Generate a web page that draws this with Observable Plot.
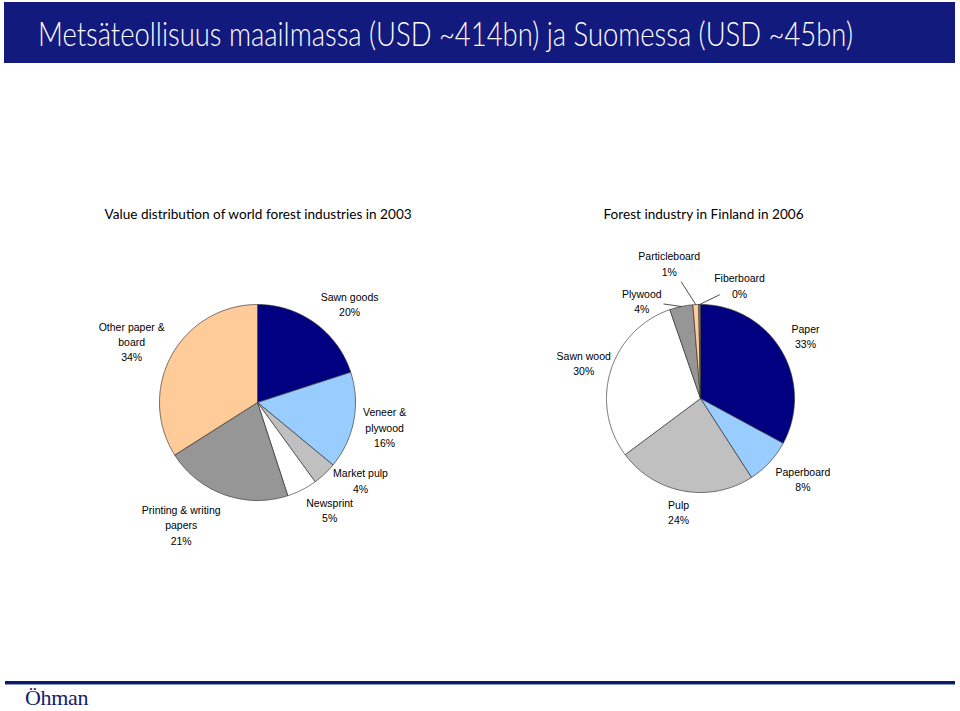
<!DOCTYPE html>
<html>
<head>
<meta charset="utf-8">
<script src="https://cdn.jsdelivr.net/npm/d3@7"></script>
<script src="https://cdn.jsdelivr.net/npm/@observablehq/plot@0.6"></script>
<style>
  html, body { margin: 0; padding: 0; background: #fff; }
  #page { position: relative; width: 960px; height: 711px; overflow: hidden; background: #fff; }
  #header { position: absolute; left: 4px; top: 2px; width: 951px; height: 61px; background: #131a7d; }
  #title { position: absolute; left: 34px; top: 7px; margin: 0; font-family: Lato, sans-serif; font-weight: 300;
           font-size: 34px; line-height: 48px; color: #fff; white-space: nowrap; transform-origin: 0 0; }
  #chart { position: absolute; left: 0; top: 70px; }
  #rule1 { position: absolute; left: 5px; top: 681px; width: 950px; height: 3px; background: #101a6a; }
  #rule2 { position: absolute; left: 5px; top: 684px; width: 950px; height: 1px; background: #8a98c8; }
  #logo { position: absolute; left: 25px; top: 685px; font-family: "Liberation Serif", serif; font-size: 22px;
          color: #14206a; letter-spacing: -0.3px; }
</style>
</head>
<body>
<div id="page">
  <div id="header"><h1 id="title">Metsäteollisuus maailmassa (USD ~414bn) ja Suomessa (USD ~45bn)</h1></div>
  <div id="chart"></div>
  <div id="rule1"></div>
  <div id="rule2"></div>
  <div id="logo">Öhman</div>
</div>
<script>
// ---- Data ----
const worldTitle = "Value distribution of world forest industries in 2003";
const worldLabels = ["Sawn goods", "Veneer &\nplywood", "Market pulp", "Newsprint", "Printing & writing\npapers", "Other paper &\nboard"];
const worldValues = [20, 16, 4, 5, 21, 34];
const worldColors = ["#000080", "#99ccff", "#c0c0c0", "#ffffff", "#969696", "#ffcc99"];

const finlandTitle = "Forest industry in Finland in 2006";
const finlandLabels = ["Paper", "Paperboard", "Pulp", "Sawn wood", "Plywood", "Particleboard", "Fiberboard"];
const finlandValues = [33, 8, 24, 30, 4, 1, 0.3];
const finlandColors = ["#000080", "#99ccff", "#c0c0c0", "#ffffff", "#969696", "#ffcc99", "#808080"];

// ---- Layout (page pixels; label placement nudges like the original spreadsheet) ----
const pies = [
  {key: "world", labels: worldLabels, values: worldValues, colors: worldColors,
   cx: 257, cy: 402, r: 98, labelDist: 1.32, title: worldTitle, tx: 104, ty: 214,
   overrides: {"Sawn goods": {deg: 43, dist: 135}, "Market pulp": {deg: 127, dist: 129},
               "Newsprint": {deg: 146, dist: 129}, "Printing & writing\npapers": {deg: 212, dist: 144},
               "Other paper &\nboard": {deg: 296, dist: 140}}},
  {key: "finland", labels: finlandLabels, values: finlandValues, colors: finlandColors,
   cx: 700, cy: 398, r: 94, labelDist: 1.3, title: finlandTitle, tx: 603, ty: 214,
   overrides: {"Paperboard": {deg: 128, dist: 130}, "Pulp": {deg: 191, dist: 115},
               "Plywood": {deg: 329, dist: 114, leader: true}, "Particleboard": {deg: 347, dist: 139, leader: true},
               "Fiberboard": {deg: 19, dist: 120, leader: true}}}
];

const polyRows = [], labelRows = [], leaderRows = [], titleRows = [];
for (const p of pies) {
  const arcs = d3.pie().sort(null).value(d => d)(p.values);
  titleRows.push({x: p.tx, y: p.ty, text: p.title});
  arcs.forEach((a, i) => {
    const id = p.key + i;
    polyRows.push({id, x: p.cx, y: p.cy, fill: p.colors[i]});
    const n = Math.max(2, Math.ceil((a.endAngle - a.startAngle) / 0.01));
    for (let k = 0; k <= n; k++) {
      const t = a.startAngle + (a.endAngle - a.startAngle) * k / n;
      polyRows.push({id, x: p.cx + p.r * Math.sin(t), y: p.cy - p.r * Math.cos(t), fill: p.colors[i]});
    }
    polyRows.push({id, x: p.cx, y: p.cy, fill: p.colors[i]});
    const mid = (a.startAngle + a.endAngle) / 2;
    const name = p.labels[i];
    const ov = p.overrides[name];
    const ang = ov ? ov.deg * Math.PI / 180 : mid;
    const dist = ov ? ov.dist : p.r * p.labelDist;
    const lx = p.cx + dist * Math.sin(ang), ly = p.cy - dist * Math.cos(ang);
    labelRows.push({x: lx, y: ly, text: name + "\n" + Math.round(p.values[i]) + "%"});
    if (ov && ov.leader) {
      const ex = p.cx + p.r * Math.sin(mid), ey = p.cy - p.r * Math.cos(mid);
      const dx = ex - lx, dy = ey - ly, L = Math.hypot(dx, dy), gap = 22;
      leaderRows.push({x1: lx + dx / L * gap, y1: ly + dy / L * gap, x2: ex, y2: ey});
    }
  });
}

const chart = Plot.plot({
  width: 960, height: 600,
  margin: 0,
  x: {domain: [0, 960], range: [0, 960], axis: null},
  y: {domain: [70, 670], range: [0, 600], axis: null},
  marks: [
    Plot.line(polyRows, {x: "x", y: "y", z: "id", fill: "fill", stroke: "#333", strokeWidth: 0.7, strokeLinejoin: "round"}),
    Plot.link(leaderRows, {x1: "x1", y1: "y1", x2: "x2", y2: "y2", stroke: "#000", strokeWidth: 0.7}),
    Plot.text(labelRows, {x: "x", y: "y", text: "text", fontSize: 10.5, lineHeight: 1.45, fill: "#000",
      fontFamily: "Liberation Sans, Arial, sans-serif"}),
    Plot.text(titleRows, {x: "x", y: "y", text: "text", textAnchor: "start", fontSize: 13.6, fill: "#000",
      fontFamily: "Lato, sans-serif"})
  ]
});
document.getElementById("chart").appendChild(chart);

// fit the header title to its width in the reference
const title = document.getElementById("title");
const w = title.getBoundingClientRect().width;
title.style.transform = `scaleX(${815 / w})`;
</script>
</body>
</html>
